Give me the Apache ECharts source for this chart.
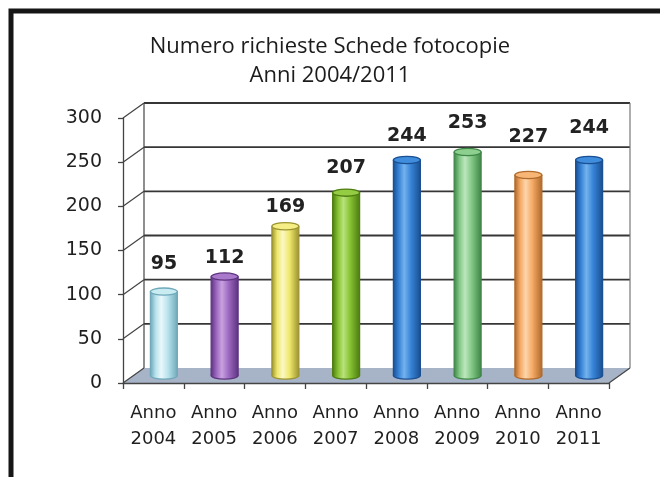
<!DOCTYPE html>
<html>
<head>
<meta charset="utf-8">
<script src="https://cdn.jsdelivr.net/npm/echarts@6/dist/echarts.min.js"></script>
<style>
  html, body { margin: 0; padding: 0; background: #ffffff; }
  #chart { width: 660px; height: 477px; }
</style>
</head>
<body>
<div id="chart"></div>
<script>
// Categories and values
const yearLabels = ['Anno\n2004', 'Anno\n2005', 'Anno\n2006', 'Anno\n2007',
                    'Anno\n2008', 'Anno\n2009', 'Anno\n2010', 'Anno\n2011'];
const requests = [95, 112, 169, 207, 244, 253, 227, 244];

// Value axis range
const axisMin = 0;
const axisMax = 300;
const axisStep = 50;

// Cylinder colours: [edge, body, highlight, cap]
const barColors = [
  ['#6fa9ba', '#b9e2ec', '#e9f8fb', '#c9ecf3'],
  ['#5e3480', '#9c68c0', '#c9a2e0', '#a97acb'],
  ['#9c9430', '#efe86c', '#fbf8c4', '#f4ee85'],
  ['#4e7d12', '#86c232', '#b9e27c', '#94cc44'],
  ['#1a4f92', '#3783d6', '#73b3ee', '#3f8ddc'],
  ['#3f8747', '#82c886', '#bde7bd', '#8ccf8f'],
  ['#b06a2c', '#f5aa66', '#fcd6ab', '#f7b676'],
  ['#1a4f92', '#3783d6', '#73b3ee', '#3f8ddc']
];
// Height of each value label's centre above its cylinder top (px)
const labelLift = [28, 19, 19, 25, 24, 29, 38, 32];

// Depth of the 3D box (back wall offset from the front plane)
const DEPTH_X = 21;
const DEPTH_Y = -15;
const BAR_W = 27;
const CAP_RY = 3.6;

const chart = echarts.init(document.getElementById('chart'), null, { renderer: 'canvas' });

function renderBox(params, api) {
  const bw = api.size([1, 0])[0];
  const n = yearLabels.length;
  const fl = api.coord([0, axisMin])[0] - bw / 2;
  const fr = api.coord([n - 1, axisMin])[0] + bw / 2;
  const fy0 = api.coord([0, axisMin])[1];
  const fyTop = api.coord([0, axisMax])[1];
  const children = [];

  // floor
  children.push({
    type: 'polygon',
    shape: { points: [[fl, fy0], [fr, fy0], [fr + DEPTH_X, fy0 + DEPTH_Y], [fl + DEPTH_X, fy0 + DEPTH_Y]] },
    style: { fill: '#a7b3c7', stroke: null }
  });

  // back wall grid lines and side-wall diagonals
  for (let v = axisMin; v <= axisMax; v += axisStep) {
    const y = api.coord([0, v])[1];
    if (v > axisMin) {
      children.push({
        type: 'line',
        shape: { x1: fl + DEPTH_X, y1: y + DEPTH_Y, x2: fr + DEPTH_X, y2: y + DEPTH_Y },
        style: { stroke: '#363636', lineWidth: 1.8 }
      });
    }
    children.push({
      type: 'line',
      shape: { x1: fl, y1: y, x2: fl + DEPTH_X, y2: y + DEPTH_Y },
      style: { stroke: '#444444', lineWidth: 1.2 }
    });
  }
  // back wall edges
  children.push({
    type: 'line',
    shape: { x1: fl + DEPTH_X, y1: fyTop + DEPTH_Y, x2: fl + DEPTH_X, y2: fy0 + DEPTH_Y },
    style: { stroke: '#444444', lineWidth: 1.2 }
  });
  children.push({
    type: 'line',
    shape: { x1: fr + DEPTH_X, y1: fyTop + DEPTH_Y, x2: fr + DEPTH_X, y2: fy0 + DEPTH_Y },
    style: { stroke: '#777777', lineWidth: 1.2 }
  });
  // floor right edge
  children.push({
    type: 'line',
    shape: { x1: fr, y1: fy0, x2: fr + DEPTH_X, y2: fy0 + DEPTH_Y },
    style: { stroke: '#444444', lineWidth: 1.2 }
  });
  return { type: 'group', children: children };
}

function renderCylinder(params, api) {
  const idx = params.dataIndex;
  const value = api.value(1);
  const base = api.coord([api.value(0), axisMin]);
  const top = api.coord([api.value(0), value]);
  const cx = base[0] + DEPTH_X / 2;
  const by = base[1] + DEPTH_Y / 2;
  const ty = top[1] + DEPTH_Y / 2;
  const c = barColors[idx];
  const grad = new echarts.graphic.LinearGradient(0, 0, 1, 0, [
    { offset: 0, color: c[0] },
    { offset: 0.2, color: c[1] },
    { offset: 0.4, color: c[2] },
    { offset: 0.65, color: c[1] },
    { offset: 1, color: c[0] }
  ]);
  const x0 = cx - BAR_W / 2;
  const x1 = cx + BAR_W / 2;
  return {
    type: 'group',
    children: [
      {
        type: 'ellipse',
        shape: { cx: cx, cy: by, rx: BAR_W / 2, ry: CAP_RY },
        style: { fill: grad, stroke: c[0], lineWidth: 1.2 }
      },
      {
        type: 'rect',
        shape: { x: x0, y: ty, width: BAR_W, height: by - ty },
        style: { fill: grad }
      },
      {
        type: 'line',
        shape: { x1: x0, y1: ty, x2: x0, y2: by },
        style: { stroke: c[0], lineWidth: 1.2 }
      },
      {
        type: 'line',
        shape: { x1: x1, y1: ty, x2: x1, y2: by },
        style: { stroke: c[0], lineWidth: 1.2 }
      },
      {
        type: 'ellipse',
        shape: { cx: cx, cy: ty, rx: BAR_W / 2, ry: CAP_RY },
        style: { fill: c[3], stroke: c[0], lineWidth: 1.3 }
      },
      {
        type: 'text',
        style: {
          text: String(value),
          x: cx,
          y: ty - labelLift[idx],
          align: 'center',
          verticalAlign: 'middle',
          fill: '#222222',
          font: 'bold 19px "DejaVu Sans", sans-serif'
        }
      }
    ]
  };
}

const option = {
  animation: false,
  backgroundColor: '#ffffff',
  title: {
    text: 'Numero richieste Schede fotocopie\nAnni 2004/2011',
    left: 'center',
    top: 27,
    textStyle: {
      fontFamily: '"Open Sans", sans-serif',
      fontSize: 22,
      lineHeight: 29,
      fontWeight: 'normal',
      color: '#1c1c1c'
    }
  },
  graphic: [{
    type: 'rect',
    shape: { x: 11, y: 11, width: 720, height: 600 },
    style: { fill: 'none', stroke: '#161616', lineWidth: 5 },
    z: 100
  }],
  grid: { left: 123, right: 51, top: 118, bottom: 94, containLabel: false },
  xAxis: {
    type: 'category',
    data: yearLabels,
    boundaryGap: true,
    z: 10,
    axisLine: { show: true, lineStyle: { color: '#444444', width: 1.3 } },
    axisTick: { show: true, length: 6, alignWithLabel: false, lineStyle: { color: '#444444', width: 1.3 } },
    axisLabel: {
      interval: 0,
      margin: 17,
      fontFamily: '"DejaVu Sans", sans-serif',
      fontSize: 18,
      lineHeight: 26,
      color: '#1f1f1f'
    },
    splitLine: { show: false }
  },
  yAxis: {
    type: 'value',
    min: axisMin,
    max: axisMax,
    interval: axisStep,
    z: 10,
    axisLine: { show: true, lineStyle: { color: '#444444', width: 1.3 } },
    axisTick: { show: true, length: 5, lineStyle: { color: '#444444', width: 1.3 } },
    axisLabel: {
      margin: 21,
      fontFamily: '"DejaVu Sans", sans-serif',
      fontSize: 19,
      color: '#1f1f1f'
    },
    splitLine: { show: false }
  },
  series: [
    {
      type: 'custom',
      z: 1,
      silent: true,
      renderItem: renderBox,
      data: [[0, axisMin]]
    },
    {
      type: 'custom',
      z: 3,
      renderItem: renderCylinder,
      encode: { x: 0, y: 1 },
      data: requests.map(function (v, i) { return [i, v]; })
    }
  ]
};

chart.setOption(option);
</script>
</body>
</html>
